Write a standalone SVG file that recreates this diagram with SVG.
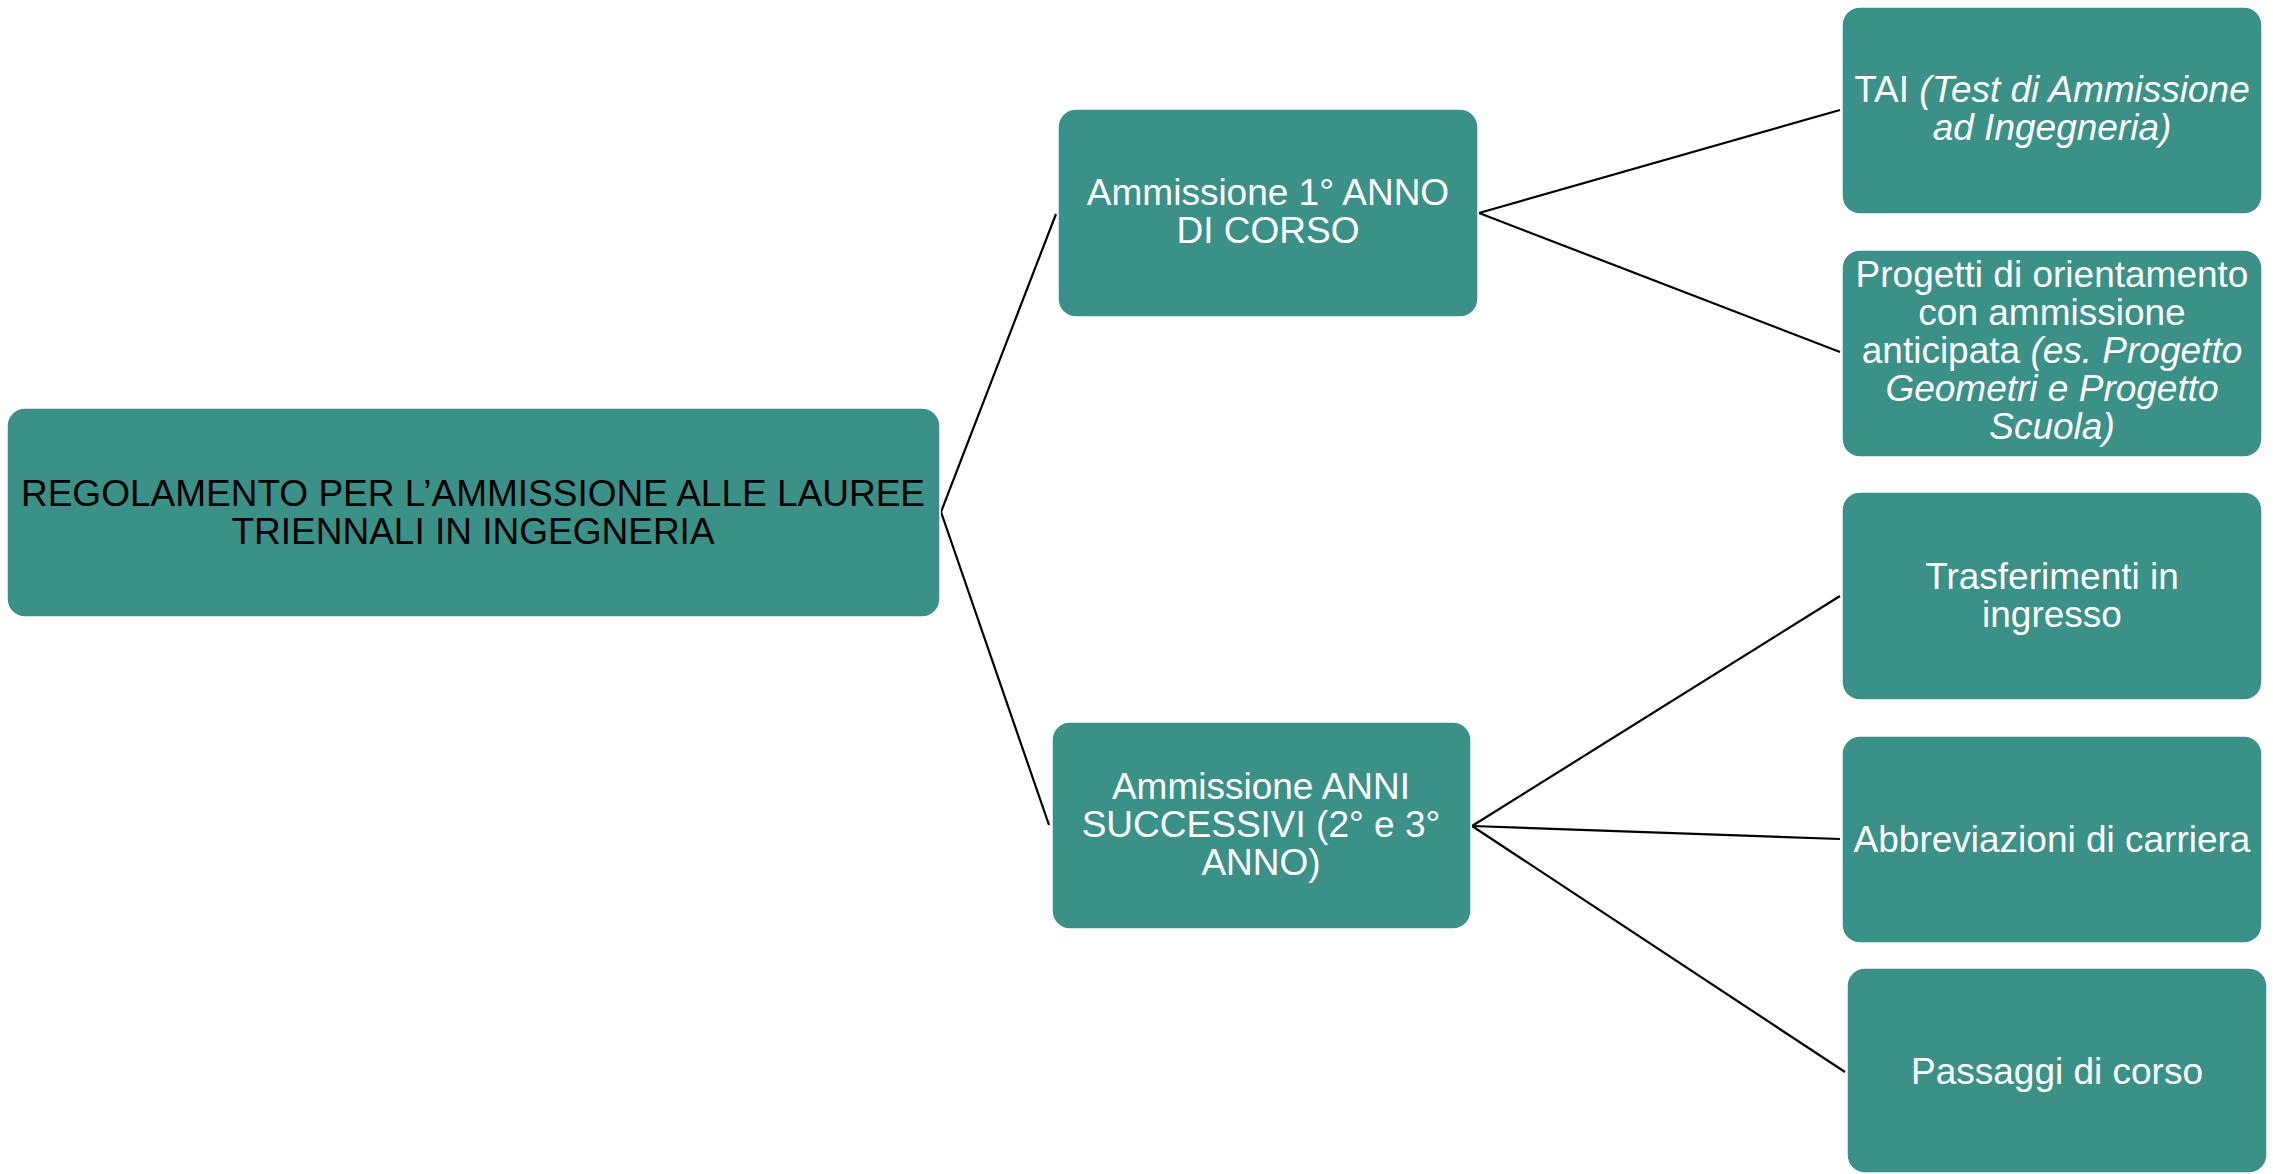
<svg xmlns="http://www.w3.org/2000/svg" width="2273" height="1174" viewBox="0 0 2273 1174">
<style>
.box{fill:#3B9088;stroke:#ffffff;stroke-width:1.5}
.t{font-family:"Liberation Sans",Arial,sans-serif;font-size:37px;fill:#ffffff;text-anchor:middle}
.dark{fill:#000000}
.i{font-style:italic}
.c{stroke:#000000;stroke-width:2.2;fill:none}
</style>
<rect width="2273" height="1174" fill="#ffffff"/>
<g id="connectors">
<line class="c" x1="941" y1="512" x2="1056" y2="214"/>
<line class="c" x1="941" y1="512" x2="1049" y2="825"/>
<line class="c" x1="1479" y1="213" x2="1840" y2="110"/>
<line class="c" x1="1479" y1="213" x2="1840" y2="352"/>
<line class="c" x1="1472" y1="826" x2="1840" y2="596"/>
<line class="c" x1="1472" y1="826" x2="1840" y2="839"/>
<line class="c" x1="1472" y1="826" x2="1845" y2="1072"/>
</g>
<g id="root">
<rect class="box" x="7" y="408" width="933" height="209" rx="18"/>
<text class="t dark" x="473" y="506">REGOLAMENTO PER L’AMMISSIONE ALLE LAUREE</text>
<text class="t dark" x="473" y="544">TRIENNALI IN INGEGNERIA</text>
</g>
<g id="node-primo-anno">
<rect class="box" x="1058" y="109" width="420" height="208" rx="18"/>
<text class="t" x="1268" y="205">Ammissione 1° ANNO</text>
<text class="t" x="1268" y="243">DI CORSO</text>
</g>
<g id="node-anni-successivi">
<rect class="box" x="1052" y="722" width="419" height="207" rx="18"/>
<text class="t" x="1261" y="799">Ammissione ANNI</text>
<text class="t" x="1261" y="837">SUCCESSIVI (2° e 3°</text>
<text class="t" x="1261" y="875">ANNO)</text>
</g>
<g id="node-tai">
<rect class="box" x="1842" y="7" width="420" height="207" rx="18"/>
<text class="t" x="2052" y="102">TAI <tspan class="i">(Test di Ammissione</tspan></text>
<text class="t i" x="2052" y="140">ad Ingegneria)</text>
</g>
<g id="node-progetti">
<rect class="box" x="1842" y="250" width="420" height="207" rx="18"/>
<text class="t" x="2052" y="287">Progetti di orientamento</text>
<text class="t" x="2052" y="325">con ammissione</text>
<text class="t" x="2052" y="363">anticipata <tspan class="i">(es. Progetto</tspan></text>
<text class="t i" x="2052" y="401">Geometri e Progetto</text>
<text class="t i" x="2052" y="439">Scuola)</text>
</g>
<g id="node-trasferimenti">
<rect class="box" x="1842" y="492" width="420" height="208" rx="18"/>
<text class="t" x="2052" y="589">Trasferimenti in</text>
<text class="t" x="2052" y="627">ingresso</text>
</g>
<g id="node-abbreviazioni">
<rect class="box" x="1842" y="736" width="420" height="207" rx="18"/>
<text class="t" x="2052" y="852">Abbreviazioni di carriera</text>
</g>
<g id="node-passaggi">
<rect class="box" x="1847" y="968" width="420" height="205" rx="18"/>
<text class="t" x="2057" y="1084">Passaggi di corso</text>
</g>
</svg>
